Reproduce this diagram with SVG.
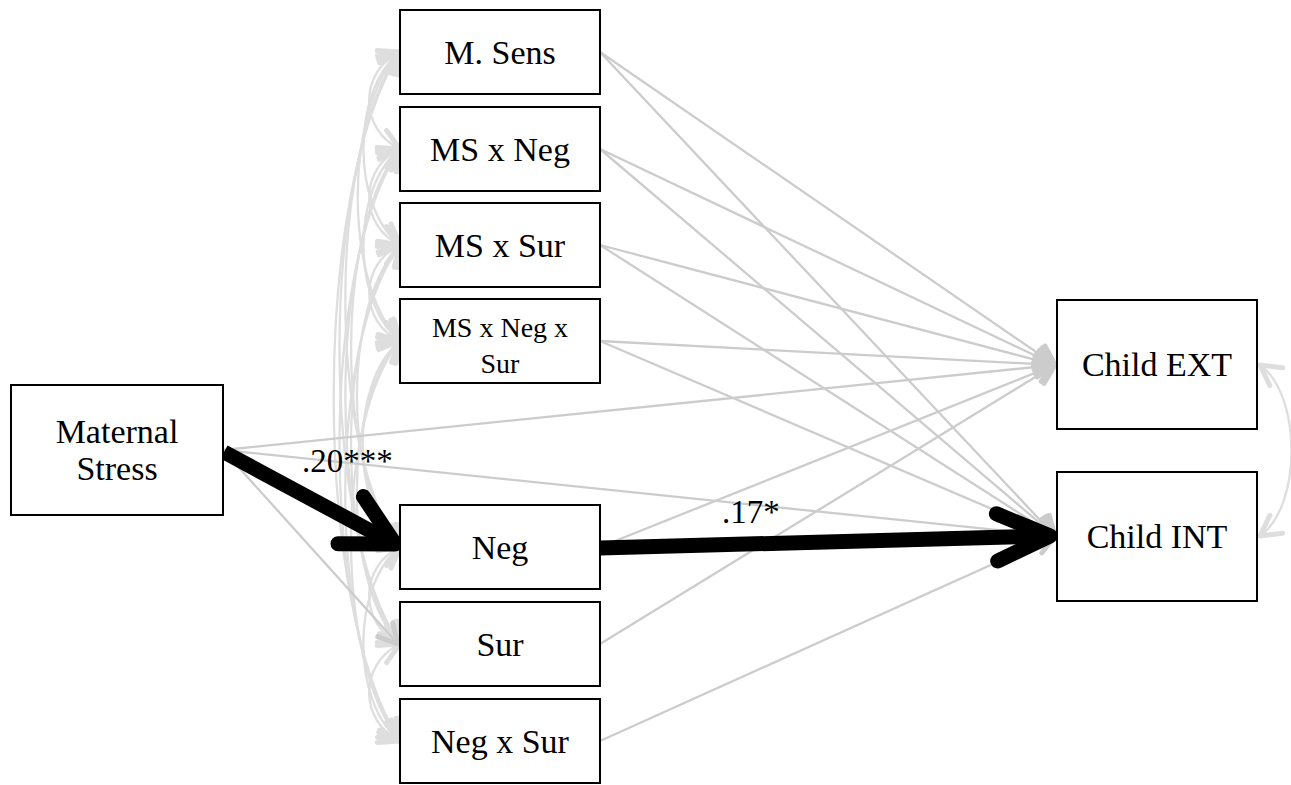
<svg xmlns="http://www.w3.org/2000/svg" width="1291" height="785" viewBox="0 0 1291 785">
  <style>
    text { font-family: "Liberation Serif", Tinos, "DejaVu Serif", "Times New Roman", serif; fill: #000000; }
    .node rect { fill: #ffffff; stroke: #000000; stroke-width: 2; }
    .node text { font-size: 34px; text-anchor: middle; }
    .node text.small { font-size: 28px; }
    .lbl { font-size: 33px; text-anchor: start; }
    .path { fill: none; stroke: #cccccc; stroke-width: 2.3; marker-end: url(#headPath); }
    .cov { fill: none; stroke: #dedede; stroke-width: 2.3; marker-start: url(#headCov); marker-end: url(#headCov); }
    .sig { fill: none; stroke: #000000; stroke-width: 15; }
    .sighead { fill: none; stroke: #000000; stroke-width: 15; stroke-linecap: round; stroke-linejoin: round; }
  </style>
  <defs>
    <marker id="headPath" markerUnits="userSpaceOnUse" viewBox="-30 -20 40 40" refX="0" refY="0" markerWidth="40" markerHeight="40" orient="auto" overflow="visible">
      <path d="M-19,-10 L0,0 L-19,10" fill="none" stroke="#cccccc" stroke-width="5" stroke-linecap="round" stroke-linejoin="round"/>
    </marker>
    <marker id="headCov" markerUnits="userSpaceOnUse" viewBox="-30 -20 40 40" refX="0" refY="0" markerWidth="40" markerHeight="40" orient="auto-start-reverse" overflow="visible">
      <path d="M-20,-11 L0,0 L-20,11" fill="none" stroke="#dedede" stroke-width="5" stroke-linecap="round" stroke-linejoin="round"/>
    </marker>
  </defs>

  <g id="connectors">
    <!-- residual covariances among the mediators (left side arcs) -->
    <path class="cov" d="M400,52 C358.9,71.4 358.9,129.6 400,149"/>
    <path class="cov" d="M400,52 C351.2,90.6 351.2,206.4 400,245"/>
    <path class="cov" d="M400,52 C343.6,109.8 343.6,283.2 400,341"/>
    <path class="cov" d="M400,52 C327.1,151 327.1,448 400,547"/>
    <path class="cov" d="M400,52 C319.3,170.4 319.3,525.6 400,644"/>
    <path class="cov" d="M400,52 C311.6,189.8 311.6,603.2 400,741"/>
    <path class="cov" d="M400,149 C359,168.2 359,225.8 400,245"/>
    <path class="cov" d="M400,149 C351.3,187.4 351.3,302.6 400,341"/>
    <path class="cov" d="M400,149 C334.8,228.6 334.8,467.4 400,547"/>
    <path class="cov" d="M400,149 C327.1,248 327.1,545 400,644"/>
    <path class="cov" d="M400,149 C319.3,267.4 319.3,622.6 400,741"/>
    <path class="cov" d="M400,245 C359,264.2 359,321.8 400,341"/>
    <path class="cov" d="M400,245 C342.5,305.4 342.5,486.6 400,547"/>
    <path class="cov" d="M400,245 C334.7,324.8 334.7,564.2 400,644"/>
    <path class="cov" d="M400,245 C327,344.2 327,641.8 400,741"/>
    <path class="cov" d="M400,341 C350.2,382.2 350.2,505.8 400,547"/>
    <path class="cov" d="M400,341 C342.4,401.6 342.4,583.4 400,644"/>
    <path class="cov" d="M400,341 C334.7,421 334.7,661 400,741"/>
    <path class="cov" d="M400,547 C358.9,566.4 358.9,624.6 400,644"/>
    <path class="cov" d="M400,547 C351.1,585.8 351.1,702.2 400,741"/>
    <path class="cov" d="M400,644 C358.9,663.4 358.9,721.6 400,741"/>

    <!-- outcome covariance -->
    <path class="cov" d="M1260,365 C1302,395 1302,506 1260,536"/>

    <!-- non-significant paths -->
    <path class="path" d="M223,450 L1055,365"/>
    <path class="path" d="M223,450 L1055,536"/>
    <path class="path" d="M223,450 L398,644"/>
    <path class="path" d="M600,52 L1055,365"/>
    <path class="path" d="M600,52 L1055,536"/>
    <path class="path" d="M600,149 L1055,365"/>
    <path class="path" d="M600,149 L1055,536"/>
    <path class="path" d="M600,245 L1055,365"/>
    <path class="path" d="M600,245 L1055,536"/>
    <path class="path" d="M600,341 L1055,365"/>
    <path class="path" d="M600,341 L1055,536"/>
    <path class="path" d="M600,547 L1055,365"/>
    <path class="path" d="M600,644 L1055,365"/>
    <path class="path" d="M600,741 L1055,536"/>

    <!-- significant paths -->
    <path class="sig" d="M224,452 L391,542"/>
    <path class="sighead" d="M338,543.7 L395,544 L363.4,496.6"/>
    <path class="sig" d="M600,548 L1046,536"/>
    <path class="sighead" d="M996.4,513.8 L1050,536 L997.7,561"/>
  </g>

  <g id="node-maternal-stress" class="node">
    <rect x="11" y="385" width="212" height="130"/>
    <text x="117" y="443">Maternal</text>
    <text x="117" y="480">Stress</text>
  </g>
  <g id="node-m-sens" class="node">
    <rect x="400" y="10" width="200" height="84"/>
    <text x="500" y="64">M. Sens</text>
  </g>
  <g id="node-ms-neg" class="node">
    <rect x="400" y="107" width="200" height="84"/>
    <text x="500" y="161">MS x Neg</text>
  </g>
  <g id="node-ms-sur" class="node">
    <rect x="400" y="203" width="200" height="84"/>
    <text x="500" y="257">MS x Sur</text>
  </g>
  <g id="node-ms-neg-sur" class="node">
    <rect x="400" y="299" width="200" height="84"/>
    <text class="small" x="500" y="337">MS x Neg x</text>
    <text class="small" x="500" y="373">Sur</text>
  </g>
  <g id="node-neg" class="node">
    <rect x="400" y="505" width="200" height="84"/>
    <text x="500" y="559">Neg</text>
  </g>
  <g id="node-sur" class="node">
    <rect x="400" y="602" width="200" height="84"/>
    <text x="500" y="656">Sur</text>
  </g>
  <g id="node-neg-sur" class="node">
    <rect x="400" y="699" width="200" height="84"/>
    <text x="500" y="753">Neg x Sur</text>
  </g>
  <g id="node-child-ext" class="node">
    <rect x="1057" y="300" width="200" height="129"/>
    <text x="1157" y="376">Child EXT</text>
  </g>
  <g id="node-child-int" class="node">
    <rect x="1057" y="472" width="200" height="129"/>
    <text x="1157" y="548">Child INT</text>
  </g>

  <g id="labels">
    <text class="lbl" x="302" y="472">.20***</text>
    <text class="lbl" x="722" y="523">.17*</text>
  </g>
</svg>
